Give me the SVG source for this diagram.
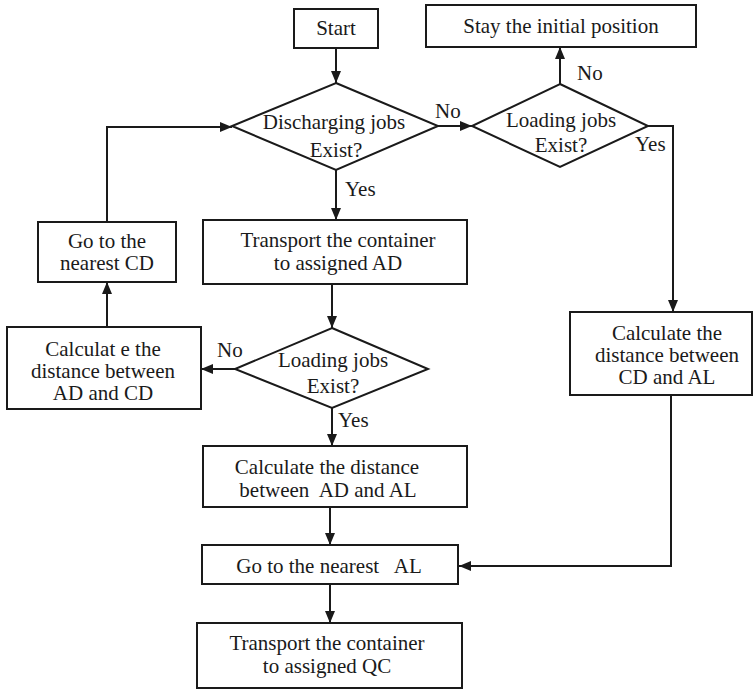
<svg xmlns="http://www.w3.org/2000/svg" width="754" height="690" viewBox="0 0 754 690">
  <style>
    .box { fill: #fff; stroke: #1a1a1a; stroke-width: 2; }
    .line { fill: none; stroke: #1a1a1a; stroke-width: 2; }
    text { font-family: "Liberation Serif", "Times New Roman", serif; font-size: 21px; fill: #1a1a1a; }
    .c { text-anchor: middle; }
  </style>
  <defs>
    <marker id="arrow" viewBox="0 0 12 10" refX="12" refY="5" markerWidth="12" markerHeight="10" markerUnits="userSpaceOnUse" orient="auto">
      <path d="M0,0 L12,5 L0,10 Z" fill="#1a1a1a"/>
    </marker>
  </defs>
  <rect width="754" height="690" fill="#fff"/>

  <g id="connectors">
    <path class="line" d="M336,48 V83" marker-end="url(#arrow)"/>
    <path class="line" d="M438,126 H472" marker-end="url(#arrow)"/>
    <path class="line" d="M560,84 V47" marker-end="url(#arrow)"/>
    <path class="line" d="M648,126 H673 V312" marker-end="url(#arrow)"/>
    <path class="line" d="M336,170 V220" marker-end="url(#arrow)"/>
    <path class="line" d="M332,284 V328" marker-end="url(#arrow)"/>
    <path class="line" d="M235,369 H201" marker-end="url(#arrow)"/>
    <path class="line" d="M107,327 V282" marker-end="url(#arrow)"/>
    <path class="line" d="M107,222 V127 H232" marker-end="url(#arrow)"/>
    <path class="line" d="M332,408 V446" marker-end="url(#arrow)"/>
    <path class="line" d="M330,507 V545" marker-end="url(#arrow)"/>
    <path class="line" d="M671,395 V566 H459" marker-end="url(#arrow)"/>
    <path class="line" d="M330,584 V623" marker-end="url(#arrow)"/>
    <text x="435" y="118">No</text>
    <text x="577" y="80">No</text>
    <text x="635" y="151">Yes</text>
    <text x="345" y="196">Yes</text>
    <text x="217" y="357">No</text>
    <text x="338" y="427">Yes</text>
  </g>

  <g id="start">
    <rect class="box" x="294" y="9" width="84" height="39"/>
    <text class="c" x="336" y="35">Start</text>
  </g>

  <g id="discharging-jobs">
    <path class="box" d="M336,83 L438,126 L336,170 L232,126 Z"/>
    <text class="c" x="334" y="129">Discharging jobs</text>
    <text class="c" x="336" y="157">Exist?</text>
  </g>

  <g id="loading-jobs-top">
    <path class="box" d="M560,84 L648,126 L560,167 L472,126 Z"/>
    <text class="c" x="561" y="127">Loading jobs</text>
    <text class="c" x="561" y="152">Exist?</text>
  </g>

  <g id="stay-initial">
    <rect class="box" x="426" y="5" width="270" height="42"/>
    <text class="c" x="561" y="33">Stay the initial position</text>
  </g>

  <g id="calc-cd-al">
    <rect class="box" x="570" y="312" width="182" height="83"/>
    <text class="c" x="667" y="340">Calculate the</text>
    <text class="c" x="667" y="362">distance between</text>
    <text class="c" x="667" y="384">CD and AL</text>
  </g>

  <g id="transport-ad">
    <rect class="box" x="203" y="220" width="264" height="64"/>
    <text class="c" x="338" y="247">Transport the container</text>
    <text class="c" x="338" y="270">to assigned AD</text>
  </g>

  <g id="loading-jobs-mid">
    <path class="box" d="M332,328 L428,369 L332,408 L235,369 Z"/>
    <text class="c" x="333" y="367">Loading jobs</text>
    <text class="c" x="333" y="393">Exist?</text>
  </g>

  <g id="calc-ad-cd">
    <rect class="box" x="7" y="327" width="194" height="82"/>
    <text class="c" x="103" y="356">Calculat e the</text>
    <text class="c" x="103" y="378">distance between</text>
    <text class="c" x="103" y="400">AD and CD</text>
  </g>

  <g id="nearest-cd">
    <rect class="box" x="38" y="222" width="138" height="60"/>
    <text class="c" x="107" y="248">Go to the</text>
    <text class="c" x="107" y="270">nearest CD</text>
  </g>

  <g id="calc-ad-al">
    <rect class="box" x="203" y="446" width="264" height="61"/>
    <text class="c" x="327" y="474">Calculate the distance</text>
    <text class="c" x="328" y="497" xml:space="preserve">between  AD and AL</text>
  </g>

  <g id="nearest-al">
    <rect class="box" x="202" y="545" width="256" height="39"/>
    <text class="c" x="329" y="573" xml:space="preserve">Go to the nearest   AL</text>
  </g>

  <g id="transport-qc">
    <rect class="box" x="197" y="623" width="265" height="65"/>
    <text class="c" x="327" y="650">Transport the container</text>
    <text class="c" x="327" y="673">to assigned QC</text>
  </g>
</svg>
